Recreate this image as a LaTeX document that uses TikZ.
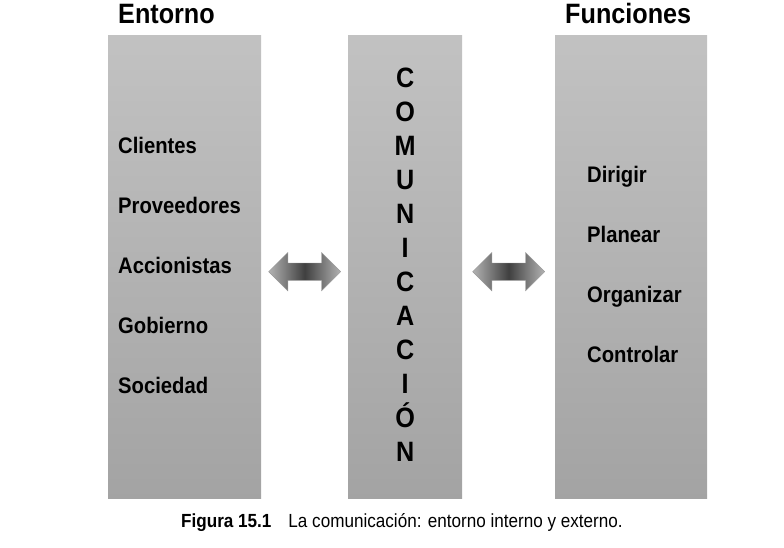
\documentclass[tikz,border=0pt]{standalone}
\usepackage{fontspec}
\setmainfont{Liberation Sans}[FakeStretch=0.9]
\usetikzlibrary{shapes.arrows,positioning,calc}

\begin{document}
\begin{tikzpicture}[
    x=1pt, y=-1pt,
    bar/.style={top color=black!24, bottom color=black!36, minimum height=463pt, inner sep=0pt, anchor=north west},
    title/.style={font=\fontsize{28}{30}\selectfont\bfseries, inner sep=0pt, anchor=base west},
    item/.style={font=\fontsize{22.5}{24}\selectfont\bfseries, inner sep=0pt, anchor=base west},
    link/.style={double arrow, double arrow head extend=10.5pt, double arrow tip angle=90, minimum height=72pt, inner xsep=0pt, inner ysep=8.5pt, left color=black!30, right color=black!30, middle color=black!75, draw=black!40}
]
\useasboundingbox (0,0) rectangle (784,547);
% columnas
\node[bar, minimum width=153pt] (entorno) at (108,35) {};
\node[bar, minimum width=114pt] (comun) at (348,35) {};
\node[bar, minimum width=152pt] (funciones) at (555,35) {};
% titulos
\node[title] (tentorno) at (118,23) {Entorno};
\node[title] (tfunciones) at (565,23) {Funciones};
% entorno
\node[item] (clientes) at (118,153) {Clientes};
\node[item] (proveedores) at ([yshift=-60pt]clientes.base west) {Proveedores};
\node[item] (accionistas) at ([yshift=-60pt]proveedores.base west) {Accionistas};
\node[item] (gobierno) at ([yshift=-60pt]accionistas.base west) {Gobierno};
\node[item] (sociedad) at ([yshift=-60pt]gobierno.base west) {Sociedad};
% funciones
\node[item] (dirigir) at (587,182) {Dirigir};
\node[item] (planear) at ([yshift=-60pt]dirigir.base west) {Planear};
\node[item] (organizar) at ([yshift=-60pt]planear.base west) {Organizar};
\node[item] (controlar) at ([yshift=-60pt]organizar.base west) {Controlar};
% comunicacion
\node[font=\fontsize{28}{34}\selectfont\bfseries, align=center, inner sep=0pt, anchor=north] (letras) at ($(comun.north)+(0,33)$)
    {C\\O\\M\\U\\N\\I\\C\\A\\C\\I\\Ó\\N};
% flechas
\node[link] (flechaizq) at ($(entorno.east)!0.5!(comun.west)+(0,5)$) {};
\node[link] (flechader) at ($(comun.east)!0.5!(funciones.west)+(0,5)$) {};
% pie
\node[anchor=base west, inner sep=0pt, font=\fontsize{19}{21}\selectfont] (pie) at (181,527)
    {\textbf{Figura 15.1}\hspace{17pt}La comunicación: entorno interno y externo.};
\end{tikzpicture}
\end{document}
